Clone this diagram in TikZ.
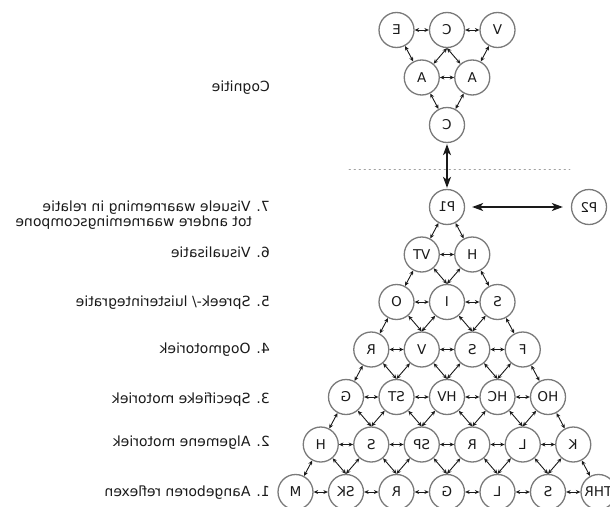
\documentclass[tikz,border=0pt]{standalone}
\usepackage{fontspec}
\setmainfont{DejaVu Sans}
\usetikzlibrary{arrows.meta}
\newcommand{\Gap}{50.5}
\newcommand{\Rise}{47.5}
\newcommand{\Top}{207}
\newcommand{\Mid}{447}
\newcommand{\Edge}{1.3pt}
\definecolor{ring}{HTML}{7A7A7A}
\definecolor{ink}{HTML}{1A1A1A}
\definecolor{rule}{HTML}{A0A0A0}

\tikzset{
  ball/.style={circle,draw=ring,line width=\Edge,minimum size=35pt,inner sep=0pt,
    text=ink,font=\fontsize{13.5}{15}\selectfont},
  link/.style={ink,line width=0.9pt,
    {Stealth[length=4.5pt,width=4pt]}-{Stealth[length=4.5pt,width=4pt]}},
  bigarrow/.style={ink,line width=1.6pt,
    {Stealth[length=11pt,width=8pt,inset=3pt]}-{Stealth[length=11pt,width=8pt,inset=3pt]}},
  level/.style={anchor=east,inner sep=0pt,text=ink,font=\fontsize{14}{15}\selectfont}
}

\begin{document}
\begin{tikzpicture}[x=1pt,y=-1pt, line join=round, line cap=round]
  \useasboundingbox (0,0) rectangle (610,506);
  \fill[white] (0,0) rectangle (610,506);

  % ---- cognition cluster on top -------------------------------------------
  \node[ball] (c-e) at (\Mid-\Gap,30) {\reflectbox{E}};
  \node[ball] (c-c) at (\Mid,30) {\reflectbox{C}};
  \node[ball] (c-v) at (\Mid+\Gap,30) {\reflectbox{V}};
  \node[ball] (c-a1) at (\Mid-\Gap/2,77.5) {\reflectbox{A}};
  \node[ball] (c-a2) at (\Mid+\Gap/2,77.5) {\reflectbox{A}};
  \node[ball] (c-b) at (\Mid,125) {\reflectbox{C}};

  \draw[link] (c-e) -- (c-c);
  \draw[link] (c-c) -- (c-v);
  \draw[link] (c-a1) -- (c-a2);
  \draw[link] (c-e) -- (c-a1);
  \draw[link] (c-c.south) -- (c-a1);
  \draw[link] (c-c.south) -- (c-a2);
  \draw[link] (c-v) -- (c-a2);
  \draw[link] (c-a1) -- (c-b);
  \draw[link] (c-a2) -- (c-b);

  % ---- the dotted line between cognition and the pyramid ------------------
  \draw[rule,line width=0.8pt,dash pattern=on 1.5pt off 3.5pt] (349,169) -- (570,169);

  % ---- pyramid, row by row ------------------------------------------------
  \foreach \rw/\row in {1/{P1},2/{VT,H},3/{O,I,S},4/{R,V,S,F},5/{G,ST,HV,HC,HO},
      6/{H,S,SP,R,L,K},7/{M,SK,R,G,L,S,THR}} {
    \foreach \lbl [count=\col] in \row {
      \pgfmathsetmacro\x{\Mid+(\col-(\rw+1)/2)*\Gap}
      \pgfmathsetmacro\y{\Top+(\rw-1)*\Rise}
      \node[ball] (p-\rw-\col) at (\x,\y) {\reflectbox{\lbl}};
    }
  }
  \node[ball] (p2) at (589,\Top) {\reflectbox{P2}};

  % ---- sideways links within a row ----------------------------------------
  \foreach \rw in {2,...,7} {
    \pgfmathtruncatemacro\last{\rw-1}
    \foreach \col in {1,...,\last} {
      \pgfmathtruncatemacro\nxt{\col+1}
      \draw[link] (p-\rw-\col) -- (p-\rw-\nxt);
    }
  }

  % ---- links down to the next row, meeting on top of the lower ball -------
  \foreach \rw in {1,...,6} {
    \pgfmathtruncatemacro\nxt{\rw+1}
    \draw[link] (p-\rw-1) -- (p-\nxt-1);
    \draw[link] (p-\rw-\rw) -- (p-\nxt-\nxt);
    \ifnum\rw>1
      \foreach \col in {2,...,\rw} {
        \pgfmathtruncatemacro\prv{\col-1}
        \draw[link] (p-\rw-\prv) -- (p-\nxt-\col.north);
        \draw[link] (p-\rw-\col) -- (p-\nxt-\col.north);
      }
    \fi
  }

  % ---- the two big arrows -------------------------------------------------
  \draw[bigarrow,shorten <=1pt,shorten >=1pt] (c-b) -- (p-1-1);
  \draw[bigarrow,shorten <=7pt,shorten >=8pt] (p-1-1) -- (p2);

  % ---- level names, mirrored like the rest --------------------------------
  \node[level] (lv-c) at (270,88) {\reflectbox{Cognitie}};
  \node[level] (lv-7) at (270,215.5) {\reflectbox{\begin{tabular}{@{}l@{}}
    7. Visuele waarneming in relatie\\\phantom{7.\ }tot andere waarnemingscompone
    \end{tabular}}};
  \node[level] (lv-6) at (270,252) {\reflectbox{6. Visualisatie}};
  \node[level] (lv-5) at (270,303) {\reflectbox{5. Spreek-/ luisterintegratie}};
  \node[level] (lv-4) at (270,350) {\reflectbox{4. Oogmotoriek}};
  \node[level] (lv-3) at (270,400) {\reflectbox{3. Specifieke motoriek}};
  \node[level] (lv-2) at (270,443) {\reflectbox{2. Algemene motoriek}};
  \node[level] (lv-1) at (270,493) {\reflectbox{1. Aangeboren reflexen}};

\end{tikzpicture}
\end{document}
